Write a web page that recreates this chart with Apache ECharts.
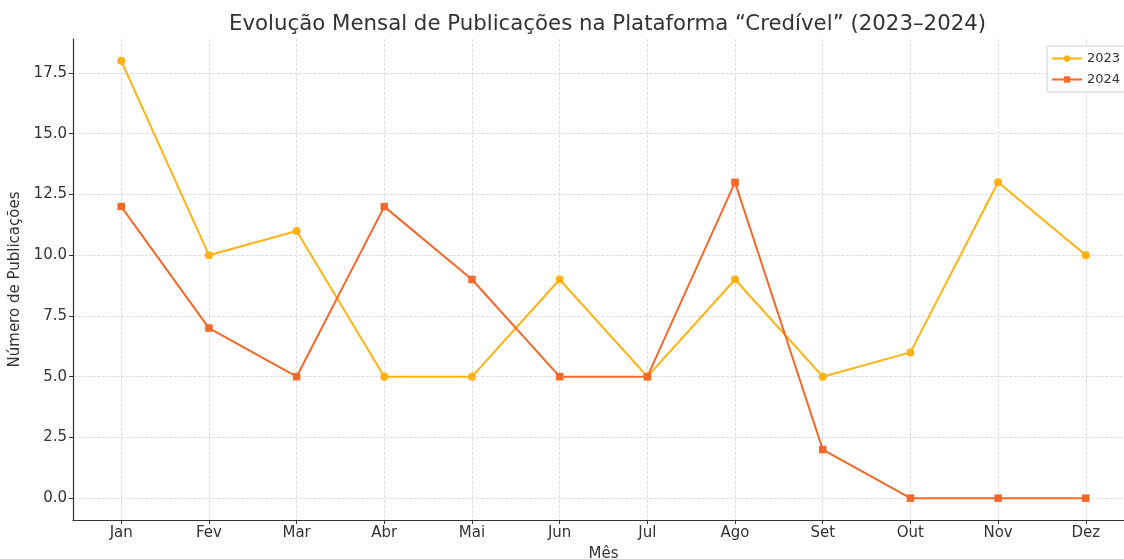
<!DOCTYPE html>
<html>
<head>
<meta charset="utf-8">
<script src="https://cdn.jsdelivr.net/npm/echarts@6/dist/echarts.min.js"></script>
<style>
html,body{margin:0;padding:0;background:#fff;}
#chart{width:1124px;height:559px;}
</style>
</head>
<body>
<div id="chart"></div>
<script>
const months = ['Jan','Fev','Mar','Abr','Mai','Jun','Jul','Ago','Set','Out','Nov','Dez'];
const s2023 = [18, 10, 11, 5, 5, 9, 5, 9, 5, 6, 13, 10];
const s2024 = [12, 7, 5, 12, 9, 5, 5, 13, 2, 0, 0, 0];
const yTicks = [0, 2.5, 5, 7.5, 10, 12.5, 15, 17.5];
const xTicks = months.map((m, i) => i);

const font = 'DejaVu Sans';
const chart = echarts.init(document.getElementById('chart'), null, {renderer: 'canvas'});
chart.setOption({
  backgroundColor: '#ffffff',
  animation: false,
  title: {
    text: 'Evolução Mensal de Publicações na Plataforma “Credível” (2023–2024)',
    left: 224, top: 9,
    textStyle: {fontFamily: font, fontSize: 21.3, fontWeight: 'normal', color: '#333'}
  },
  legend: {
    left: 1047, top: 46,
    orient: 'vertical',
    itemWidth: 30, itemHeight: 8, itemGap: 8,
    padding: [6, 8, 6, 4],
    borderColor: '#d0d0d0', borderWidth: 1, borderRadius: 3,
    backgroundColor: '#fff',
    textStyle: {fontFamily: font, fontSize: 13, color: '#333'},
    data: ['2023', '2024']
  },
  grid: {left: 73, top: 39, width: 1061, height: 481, containLabel: false, outerBoundsMode: 'none'},
  xAxis: {
    type: 'value', min: -0.55, max: 11.55,
    name: 'Mês', nameLocation: 'middle', nameGap: 27,
    nameTextStyle: {fontFamily: font, fontSize: 15, color: '#333'},
    axisLine: {show: true, onZero: false, lineStyle: {color: '#333', width: 1.2}},
    axisTick: {show: true, length: 4, customValues: xTicks, lineStyle: {color: '#333'}},
    axisLabel: {customValues: xTicks, formatter: v => months[Math.round(v)] || '', fontFamily: font, fontSize: 15, color: '#333', margin: 6},
    splitLine: {show: true, lineStyle: {color: '#d4d4d4', type: 'dashed', width: 0.8}}
  },
  yAxis: {
    type: 'value', min: -0.9, max: 18.9,
    name: 'Número de Publicações', nameLocation: 'middle', nameGap: 47,
    nameTextStyle: {fontFamily: font, fontSize: 15, color: '#333'},
    axisLine: {show: true, onZero: false, lineStyle: {color: '#333', width: 1.2}},
    axisTick: {show: true, length: 4, customValues: yTicks, lineStyle: {color: '#333'}},
    axisLabel: {customValues: yTicks, formatter: v => v.toFixed(1), fontFamily: font, fontSize: 15, color: '#333', margin: 6},
    splitLine: {show: true, lineStyle: {color: '#d4d4d4', type: 'dashed', width: 0.8}}
  },
  series: [
    {
      name: '2023', type: 'line',
      data: s2023.map((v, i) => [i, v]),
      symbol: 'circle', symbolSize: 8,
      lineStyle: {color: '#FFB212', width: 2},
      itemStyle: {color: '#FFB212'}
    },
    {
      name: '2024', type: 'line',
      data: s2024.map((v, i) => [i, v]),
      symbol: 'rect', symbolSize: 7.5,
      lineStyle: {color: '#F4692A', width: 2},
      itemStyle: {color: '#F4692A'}
    }
  ]
});
</script>
</body>
</html>
